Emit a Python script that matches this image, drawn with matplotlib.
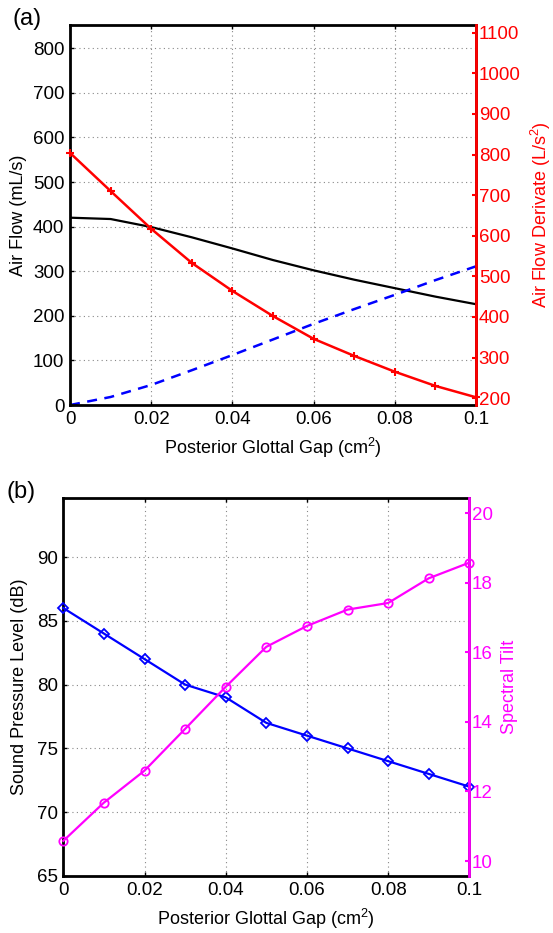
import matplotlib
matplotlib.use("Agg")
import matplotlib.pyplot as plt
import numpy as np

plt.rcParams['font.family'] = ['Liberation Sans', 'DejaVu Sans']
plt.rcParams['mathtext.default'] = 'regular'

# ---- data ----
gap = [0, 0.01, 0.02, 0.03, 0.04, 0.05, 0.06, 0.07, 0.08, 0.09, 0.1]
air_flow = [420, 417, 399, 376, 351, 325, 302, 281, 262, 243, 226]
gap_flow = [0, 18, 45, 78, 112, 147, 182, 215, 247, 280, 311]
flow_deriv = [804, 710, 617, 533, 464, 402, 346, 304, 265, 230, 202]
spl = [86, 84, 82, 80, 79, 77, 76, 75, 74, 73, 72]
tilt = [10.58, 11.68, 12.6, 13.8, 15.01, 16.16, 16.76, 17.23, 17.42, 18.13, 18.58]

xticks = [0, 0.02, 0.04, 0.06, 0.08, 0.1]
xticklabels = ['0', '0.02', '0.04', '0.06', '0.08', '0.1']
a_left_ticks = [0, 100, 200, 300, 400, 500, 600, 700, 800]
a_right_ticks = [200, 300, 400, 500, 600, 700, 800, 900, 1000, 1100]
b_left_ticks = [65, 70, 75, 80, 85, 90]
b_right_ticks = [10, 12, 14, 16, 18, 20]

RED = '#FF0000'
BLUE = '#0000FF'
MAG = '#FF00FF'
FS = 13.5
LFS = 13

fig = plt.figure(figsize=(5.53, 9.33), dpi=100)


def style_left(ax, yticks):
    ax.set_xlim(0, 0.1)
    ax.set_xticks(xticks)
    ax.set_xticklabels(xticklabels)
    ax.set_yticks(yticks)
    ax.tick_params(direction='in', length=3, width=1, labelsize=FS,
                   top=True, right=True, pad=4)
    for s in ['left', 'bottom', 'top', 'right']:
        ax.spines[s].set_linewidth(2)
    ax.grid(True, linestyle=(0, (1, 3)), color='#888888', linewidth=0.8)
    ax.set_xlabel('Posterior Glottal Gap (cm$^{2}$)', fontsize=LFS, labelpad=6)


def style_right(ax2, yticks, color):
    ax2.set_yticks(yticks)
    ax2.tick_params(axis='y', direction='in', length=3, width=1.5,
                    colors=color, labelsize=FS, pad=2)
    ax2.spines['right'].set_color(color)
    ax2.spines['right'].set_linewidth(2)
    for s in ['left', 'bottom', 'top']:
        ax2.spines[s].set_visible(False)


# ---- panel (a) ----
ax = fig.add_axes([0.1266, 0.5659, 0.7342, 0.4073])
ax.plot(gap, air_flow, color='black', linewidth=1.6)
ax.plot(gap, gap_flow, color=BLUE, linewidth=1.8, linestyle=(0, (4, 3)))
ax.set_ylim(0, 852)
style_left(ax, a_left_ticks)
ax.set_ylabel('Air Flow (mL/s)', fontsize=LFS, labelpad=4)

ax2 = ax.twinx()
ax2.plot(gap, flow_deriv, color=RED, linewidth=1.8, marker='+',
         markersize=6, markeredgewidth=1.5, clip_on=False)
ax2.set_ylim(183, 1119)
style_right(ax2, a_right_ticks, RED)
ax2.set_ylabel('Air Flow Derivate (L/s$^{2}$)', fontsize=LFS, color=RED, labelpad=6)
ax2.patch.set_visible(False)
fig.text(0.022, 0.980, '(a)', fontsize=17, ha='left', va='center')

# ---- panel (b) ----
bx = fig.add_axes([0.1145, 0.0611, 0.7342, 0.4048])
bx.plot(gap, spl, color=BLUE, linewidth=1.6, marker='D', markersize=5,
        markerfacecolor='none', markeredgecolor=BLUE, markeredgewidth=1.3,
        clip_on=False, zorder=3)
bx.set_ylim(65, 94.6)
style_left(bx, b_left_ticks)
bx.set_ylabel('Sound Pressure Level (dB)', fontsize=LFS, labelpad=6)

bx2 = bx.twinx()
bx2.plot(gap, tilt, color=MAG, linewidth=1.6, marker='o', markersize=6,
         markerfacecolor='none', markeredgecolor=MAG, markeredgewidth=1.3,
         clip_on=False)
bx2.set_ylim(9.57, 20.43)
style_right(bx2, b_right_ticks, MAG)
bx2.set_ylabel('Spectral Tilt', fontsize=LFS, color=MAG, labelpad=6)
bx2.patch.set_visible(False)
fig.text(0.012, 0.473, '(b)', fontsize=17, ha='left', va='center')

fig.savefig('out.png', dpi=100)
